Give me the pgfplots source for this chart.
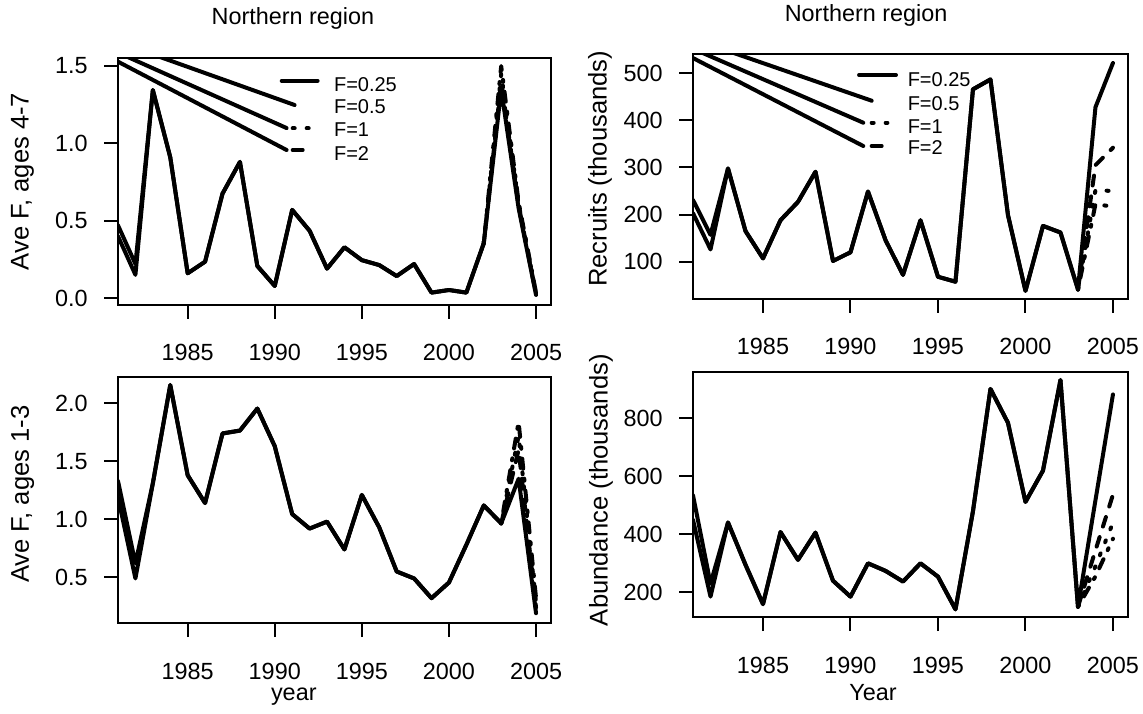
\documentclass[border=0pt]{standalone}
\usepackage{fontspec}
\setmainfont{Liberation Sans}
\usepackage{pgfplots}
\usepackage{pgfplotstable}
\pgfplotsset{compat=1.18}
\newcommand\fa{\fontsize{11.7bp}{13bp}\selectfont}
\newcommand\fc{\fontsize{12.8bp}{14bp}\selectfont}
\newcommand\fb{\fontsize{10bp}{12bp}\selectfont}

\pgfplotstableread{
year a b c d
1981 0.47 0.40 0.40 0.40
1982 0.22 0.15 0.15 0.15
1983 1.345 1.345 1.345 1.345
1984 0.91 0.91 0.91 0.91
1985 0.16 0.16 0.16 0.16
1986 0.235 0.235 0.235 0.235
1987 0.675 0.675 0.675 0.675
1988 0.88 0.88 0.88 0.88
1989 0.207 0.207 0.207 0.207
1990 0.078 0.078 0.078 0.078
1991 0.57 0.57 0.57 0.57
1992 0.435 0.435 0.435 0.435
1993 0.19 0.19 0.19 0.19
1994 0.328 0.328 0.328 0.328
1995 0.245 0.245 0.245 0.245
1996 0.213 0.213 0.213 0.213
1997 0.142 0.142 0.142 0.142
1998 0.22 0.22 0.22 0.22
1999 0.035 0.035 0.035 0.035
2000 0.052 0.052 0.052 0.052
2001 0.035 0.035 0.035 0.035
2002 0.354 0.354 0.354 0.354
2003 1.35 1.40 1.45 1.50
2004 0.58 0.60 0.61 0.62
2005 0.02 0.025 0.03 0.035
}\tlT

\pgfplotstableread{
year a b c d
1981 231 203 203 203
1982 157 126 126 126
1983 298 298 298 298
1984 165 165 165 165
1985 107 107 107 107
1986 188 188 188 188
1987 227 227 227 227
1988 291 291 291 291
1989 101.5 101.5 101.5 101.5
1990 120 120 120 120
1991 249 249 249 249
1992 146 146 146 146
1993 72 72 72 72
1994 188 188 188 188
1995 68 68 68 68
1996 57.5 57.5 57.5 57.5
1997 466 466 466 466
1998 487 487 487 487
1999 199 199 199 199
2000 38 38 38 38
2001 176 176 176 176
2002 162 162 162 162
2003 41 41 41 41
2004 428 305 252 222
2005 522 342 250 217
}\trT

\pgfplotstableread{
year a b c d
1981 1.33 1.19 1.19 1.19
1982 0.62 0.49 0.49 0.49
1983 1.31 1.31 1.31 1.31
1984 2.158 2.158 2.158 2.158
1985 1.38 1.38 1.38 1.38
1986 1.14 1.14 1.14 1.14
1987 1.74 1.74 1.74 1.74
1988 1.765 1.765 1.765 1.765
1989 1.955 1.955 1.955 1.955
1990 1.63 1.63 1.63 1.63
1991 1.045 1.045 1.045 1.045
1992 0.92 0.92 0.92 0.92
1993 0.98 0.98 0.98 0.98
1994 0.74 0.74 0.74 0.74
1995 1.21 1.21 1.21 1.21
1996 0.93 0.93 0.93 0.93
1997 0.55 0.55 0.55 0.55
1998 0.49 0.49 0.49 0.49
1999 0.32 0.32 0.32 0.32
2000 0.455 0.455 0.455 0.455
2001 0.78 0.78 0.78 0.78
2002 1.12 1.12 1.12 1.12
2003 0.965 0.965 0.965 0.965
2004 1.35 1.60 1.72 1.84
2005 0.19 0.24 0.28 0.32
}\blT

\pgfplotstableread{
year a b c d
1981 535 450 450 450
1982 230 185 185 185
1983 441 441 441 441
1984 295 295 295 295
1985 159 159 159 159
1986 408 408 408 408
1987 312 312 312 312
1988 406 406 406 406
1989 240 240 240 240
1990 185 185 185 185
1991 300 300 300 300
1992 274 274 274 274
1993 237 237 237 237
1994 300 300 300 300
1995 254 254 254 254
1996 141 141 141 141
1997 480 480 480 480
1998 902 902 902 902
1999 785 785 785 785
2000 512 512 512 512
2001 620 620 620 620
2002 933 933 933 933
2003 150 150 150 150
2004 518 345 290 255
2005 883 537 440 385
}\brT

\pgfplotsset{
  rpanel/.style={
    scale only axis, anchor=south west,
    xmin=1981, xmax=2005.86,
    axis line style={line width=1bp, black},
    tick align=outside, tick pos=left,
    major tick length=7bp,
    tick style={black, line width=1bp},
    xtick={1985,1990,1995,2000,2005},
    xticklabels={1985,1990,1995,2000,2005},
    tick label style={font=\fa, inner sep=0pt},
    xticklabel style={anchor=base, yshift=-21bp},
    yticklabel style={anchor=east, xshift=-8bp},
    xlabel style={font=\fa, anchor=base},
    ylabel style={font=\fc, anchor=center},
  },
  fl/.style={line width=2bp, black, line join=round, line cap=round},
  sdash/.style={dash pattern=on 5bp off 5.5bp},
  sdot/.style={dash pattern=on 1bp off 6bp},
  sdd/.style={dash pattern=on 1bp off 5bp on 5bp off 5bp},
}

\begin{document}
\begin{tikzpicture}
\path[use as bounding box] (0,0) rectangle (571.5bp,357bp);

% Top left
\begin{axis}[rpanel, at={(59bp,204.5bp)}, width=216.5bp, height=123.5bp,
  ymin=-0.045, ymax=1.552,
  ytick={0,0.5,1,1.5}, yticklabels={0.0,0.5,1.0,1.5},
  title={Northern region},
  every axis title/.style={at={(axis description cs:0.404,1.134)}, anchor=base, font=\fa, inner sep=0pt},
  ylabel={Ave F, ages 4-7}, ylabel style={at={(axis description cs:-0.2206,0.5)}}]
\addplot[fl, sdd] table[x=year, y=d, restrict x to domain=2002:2005] {\tlT};
\addplot[fl, sdot] table[x=year, y=c, restrict x to domain=2002:2005] {\tlT};
\addplot[fl, sdash] table[x=year, y=b, restrict x to domain=2002:2005] {\tlT};
\addplot[fl] table[x=year, y=b, restrict x to domain=1981:2002] {\tlT};
\addplot[fl] table[x=year, y=a] {\tlT};
% legend
\addplot[fl] coordinates {(1990.40,1.405) (1992.46,1.405)};
\addplot[fl] coordinates {(1974.24,1.927) (1991.14,1.248)};
\addplot[fl] coordinates {(1974.24,1.927) (1990.68,1.099)};
\addplot[fl] coordinates {(1974.24,1.927) (1990.68,0.957)};
\addplot[fl, sdot] coordinates {(1991.03,1.097) (1992.12,1.097)};
\addplot[fl, sdash] coordinates {(1991.03,0.957) (1992.23,0.957)};
\node[anchor=west, font=\fb, inner sep=0pt] at (axis cs:1993.38,1.377) {F=0.25};
\node[anchor=west, font=\fb, inner sep=0pt] at (axis cs:1993.38,1.237) {F=0.5};
\node[anchor=west, font=\fb, inner sep=0pt] at (axis cs:1993.38,1.088) {F=1};
\node[anchor=west, font=\fb, inner sep=0pt] at (axis cs:1993.38,0.936) {F=2};
\end{axis}

% Top right
\begin{axis}[rpanel, at={(346.5bp,207.5bp)}, width=217.5bp, height=122.5bp,
  ymin=20.8, ymax=541,
  ytick={100,200,300,400,500}, yticklabels={100,200,300,400,500},
  title={Northern region},
  every axis title/.style={at={(axis description cs:0.398,1.131)}, anchor=base, font=\fa, inner sep=0pt},
  ylabel={Recruits (thousands)}, ylabel style={at={(axis description cs:-0.2138,0.531)}}]
\addplot[fl, sdd] table[x=year, y=d, restrict x to domain=2003:2005] {\trT};
\addplot[fl, sdot] table[x=year, y=c, restrict x to domain=2003:2005] {\trT};
\addplot[fl, sdash] table[x=year, y=b, restrict x to domain=2003:2005] {\trT};
\addplot[fl] table[x=year, y=b, restrict x to domain=1981:2003] {\trT};
\addplot[fl] table[x=year, y=a] {\trT};
% legend
\addplot[fl] coordinates {(1990.49,496.4) (1992.6,496.4)};
\addplot[fl] coordinates {(1974.58,655.6) (1991.21,441.8)};
\addplot[fl] coordinates {(1974.58,655.6) (1990.73,395.1)};
\addplot[fl] coordinates {(1974.58,655.6) (1990.73,345.6)};
\addplot[fl, sdot] coordinates {(1991.21,395.1) (1992.11,395.1)};
\addplot[fl, sdash] coordinates {(1991.21,345.6) (1991.95,345.6)};
\node[anchor=west, font=\fb, inner sep=0pt] at (axis cs:1993.25,485.8) {F=0.25};
\node[anchor=west, font=\fb, inner sep=0pt] at (axis cs:1993.25,436.3) {F=0.5};
\node[anchor=west, font=\fb, inner sep=0pt] at (axis cs:1993.25,386) {F=1};
\node[anchor=west, font=\fb, inner sep=0pt] at (axis cs:1993.25,342.5) {F=2};
\end{axis}

% Bottom left
\begin{axis}[rpanel, at={(59bp,45.5bp)}, width=216.5bp, height=123bp,
  ymin=0.106, ymax=2.227,
  ytick={0.5,1,1.5,2}, yticklabels={0.5,1.0,1.5,2.0},
  xlabel={year}, xlabel style={at={(axis description cs:0.406,-0.313)}},
  ylabel={Ave F, ages 1-3}, ylabel style={at={(axis description cs:-0.2206,0.524)}}]
\addplot[fl, sdd] table[x=year, y=d, restrict x to domain=2003:2005] {\blT};
\addplot[fl, sdot] table[x=year, y=c, restrict x to domain=2003:2005] {\blT};
\addplot[fl, sdash] table[x=year, y=b, restrict x to domain=2003:2005] {\blT};
\addplot[fl] table[x=year, y=b, restrict x to domain=1981:2003] {\blT};
\addplot[fl] table[x=year, y=a] {\blT};
\end{axis}

% Bottom right
\begin{axis}[rpanel, at={(346.5bp,48.5bp)}, width=217.5bp, height=122.5bp,
  ymin=114.7, ymax=960.5,
  ytick={200,400,600,800}, yticklabels={200,400,600,800},
  xlabel={Year}, xlabel style={at={(axis description cs:0.414,-0.339)}},
  ylabel={Abundance (thousands)}, ylabel style={at={(axis description cs:-0.2115,0.518)}}]
\addplot[fl, sdd] table[x=year, y=d, restrict x to domain=2003:2005] {\brT};
\addplot[fl, sdot] table[x=year, y=c, restrict x to domain=2003:2005] {\brT};
\addplot[fl, sdash] table[x=year, y=b, restrict x to domain=2003:2005] {\brT};
\addplot[fl] table[x=year, y=b, restrict x to domain=1981:2003] {\brT};
\addplot[fl] table[x=year, y=a] {\brT};
\end{axis}
\end{tikzpicture}
\end{document}
